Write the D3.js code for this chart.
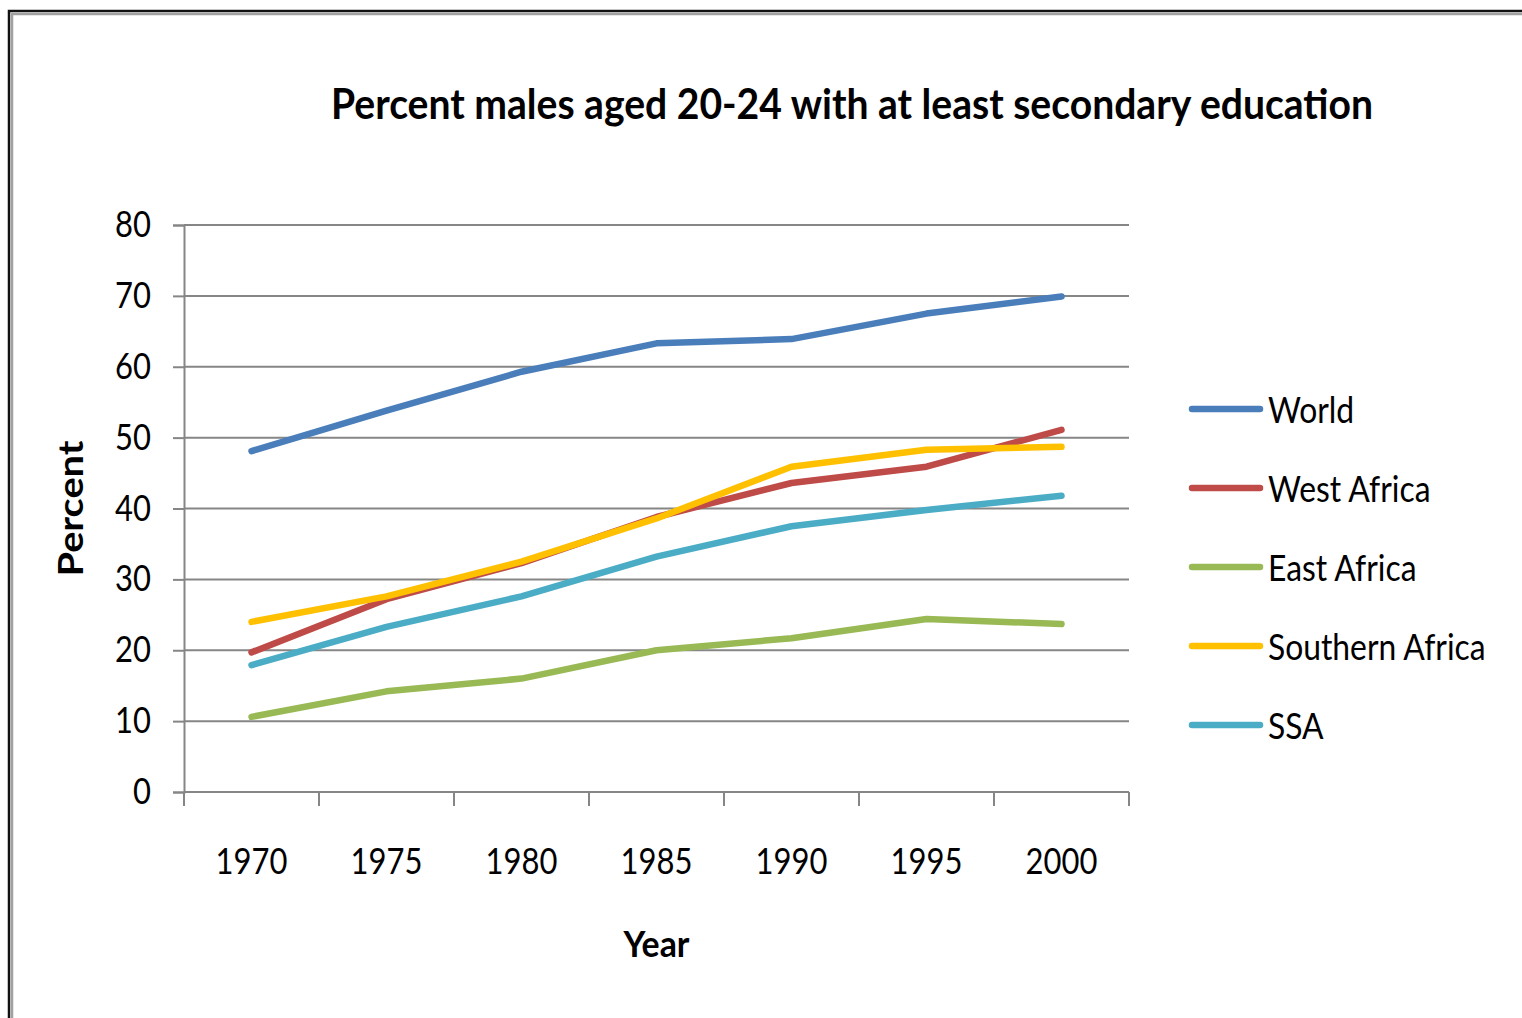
<!DOCTYPE html>
<html>
<head>
<meta charset="utf-8">
<script src="https://cdn.jsdelivr.net/npm/d3@7/dist/d3.min.js"></script>
<style>
  html, body { margin: 0; padding: 0; background: #ffffff; }
  svg { display: block; }
  text { font-family: Lato, "Open Sans", "Noto Sans", sans-serif; fill: #000; }
</style>
</head>
<body>
<svg id="chart" width="1522" height="1018"></svg>
<script>
// ---------- data ----------
const years = ["1970", "1975", "1980", "1985", "1990", "1995", "2000"];
const seriesNames = ["World", "West Africa", "East Africa", "Southern Africa", "SSA"];
const world          = [48.1, 53.8, 59.3, 63.3, 63.9, 67.5, 69.9];
const westAfrica     = [19.7, 27.2, 32.3, 38.8, 43.6, 45.9, 51.1];
const eastAfrica     = [10.6, 14.2, 16.0, 20.0, 21.7, 24.4, 23.7];
const southernAfrica = [24.0, 27.6, 32.5, 38.6, 45.9, 48.3, 48.7];
const ssa            = [17.9, 23.3, 27.6, 33.2, 37.5, 39.8, 41.8];
const yTicks = [0, 10, 20, 30, 40, 50, 60, 70, 80];
const titleText = "Percent males aged 20-24 with at least secondary education";
const xTitle = "Year";
const yTitle = "Percent";

const seriesValues = [world, westAfrica, eastAfrica, southernAfrica, ssa];
const colors = ["#4A7EBB", "#BE4B48", "#98B954", "#FFC000", "#4BACC6"];

// ---------- layout ----------
const svg = d3.select("#chart");
const plot = { left: 184, right: 1129, top: 225, bottom: 792 };
const gridColor = "#868686";

// helper: compress text horizontally (Calibri-like narrow look)
function squeeze(sel, k) {
  sel.each(function () {
    const w = this.getComputedTextLength();
    this.setAttribute("textLength", w * k);
    this.setAttribute("lengthAdjust", "spacingAndGlyphs");
  });
}
function fitWidth(sel, target) {
  sel.each(function () {
    this.setAttribute("textLength", target);
    this.setAttribute("lengthAdjust", "spacingAndGlyphs");
  });
}

// frame
svg.append("rect").attr("x", 9).attr("y", 11).attr("width", 1600).attr("height", 1100)
  .attr("fill", "none").attr("stroke", "#111").attr("stroke-width", 2.5);
svg.append("rect").attr("x", 12).attr("y", 14).attr("width", 1600).attr("height", 1100)
  .attr("fill", "none").attr("stroke", "#a0a0a0").attr("stroke-width", 2.5);

// scales
const x = d3.scaleBand().domain(years).range([plot.left, plot.right]).paddingInner(0).paddingOuter(0);
const y = d3.scaleLinear().domain([0, 80]).range([plot.bottom, plot.top]);
const cx = d => x(d) + x.bandwidth() / 2;

// gridlines
svg.append("g").selectAll("line").data(yTicks.filter(v => v > 0)).join("line")
  .attr("x1", plot.left).attr("x2", plot.right)
  .attr("y1", d => y(d)).attr("y2", d => y(d))
  .attr("stroke", gridColor).attr("stroke-width", 2);

// y axis
const yAxis = svg.append("g").attr("transform", `translate(${plot.left},0)`)
  .call(d3.axisLeft(y).tickValues(yTicks).tickSize(11).tickPadding(22).tickFormat(d3.format("d")));
yAxis.select(".domain").attr("stroke", gridColor).attr("stroke-width", 2);
yAxis.selectAll(".tick line").attr("stroke", gridColor).attr("stroke-width", 2);
yAxis.selectAll(".tick text").attr("font-size", 36).attr("font-family", "Lato, sans-serif").attr("fill", "#111");
squeeze(yAxis.selectAll(".tick text"), 0.86);

// x axis (ticks at category boundaries)
const xg = svg.append("g");
xg.append("line").attr("x1", plot.left).attr("x2", plot.right)
  .attr("y1", y(0)).attr("y2", y(0)).attr("stroke", gridColor).attr("stroke-width", 2);
const boundaries = years.map(d => x(d)).concat([x(years[years.length - 1]) + x.bandwidth()]);
xg.selectAll("line.tk").data(boundaries).join("line").attr("class", "tk")
  .attr("x1", d => d).attr("x2", d => d)
  .attr("y1", y(0)).attr("y2", y(0) + 14)
  .attr("stroke", gridColor).attr("stroke-width", 2);
const xLabels = xg.selectAll("text").data(years).join("text")
  .attr("x", d => cx(d)).attr("y", y(0) + 82)
  .attr("text-anchor", "middle").attr("font-size", 36).attr("fill", "#111")
  .text(d => d);
squeeze(xLabels, 0.86);

// series lines
const line = d3.line().x((d, i) => cx(years[i])).y(d => y(d));
svg.append("g").selectAll("path").data(seriesValues).join("path")
  .attr("d", d => line(d))
  .attr("fill", "none")
  .attr("stroke", (d, i) => colors[i])
  .attr("stroke-width", 6.5)
  .attr("stroke-linecap", "round")
  .attr("stroke-linejoin", "round");

// title
const title = svg.append("text").attr("x", 852).attr("y", 119)
  .attr("text-anchor", "middle").attr("font-size", 42).attr("font-weight", "bold")
  .text(titleText);
fitWidth(title, 1042);

// axis titles
const xt = svg.append("text").attr("x", (plot.left + plot.right) / 2).attr("y", 957)
  .attr("text-anchor", "middle").attr("font-size", 36).attr("font-weight", "bold").text(xTitle);
fitWidth(xt, 66);
const yt = svg.append("text")
  .attr("transform", `translate(83,${(plot.top + plot.bottom) / 2}) rotate(-90)`)
  .attr("text-anchor", "middle").attr("font-size", 34).attr("font-weight", "bold").text(yTitle);
fitWidth(yt, 136);

// legend
const legend = svg.append("g").attr("transform", "translate(1192,409)");
const items = legend.selectAll("g").data(seriesNames).join("g")
  .attr("transform", (d, i) => `translate(0,${i * 79})`);
items.append("line").attr("x1", 0).attr("x2", 68).attr("y1", 0).attr("y2", 0)
  .attr("stroke", (d, i) => colors[i]).attr("stroke-width", 6.5).attr("stroke-linecap", "round");
const legTexts = items.append("text").attr("x", 76).attr("y", 14)
  .attr("font-size", 37).attr("fill", "#111").text(d => d);
squeeze(legTexts, 0.86);
</script>
</body>
</html>
